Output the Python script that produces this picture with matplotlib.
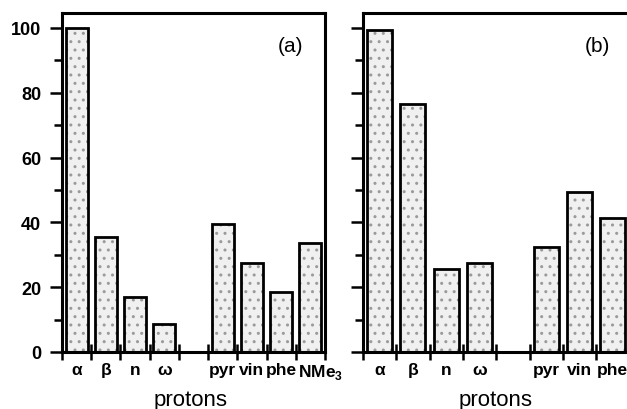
import matplotlib
matplotlib.use("Agg")
import matplotlib.pyplot as plt
import numpy as np

plt.rcParams['font.family'] = ['Liberation Sans', 'DejaVu Sans']
plt.rcParams['mathtext.fontset'] = 'custom'
plt.rcParams['mathtext.rm'] = 'Liberation Sans:bold'
plt.rcParams['mathtext.bf'] = 'Liberation Sans:bold'

# data
labels_a = ['α', 'β', 'n', 'ω', '', 'pyr', 'vin', 'phe', r'NMe$_\mathbf{3}$']
values_a = [100, 35.5, 17, 8.5, None, 39.5, 27.5, 18.5, 33.5]
labels_b = ['α', 'β', 'n', 'ω', '', 'pyr', 'vin', 'phe', r'NMe$_\mathbf{3}$']
values_b = [99.5, 76.5, 25.5, 27.5, None, 32.5, 49.5, 41.5, 35]
panel_tags = ['(a)', '(b)']
y_ticks = [0, 20, 40, 60, 80, 100]

W, H = 627, 410
fig = plt.figure(figsize=(W / 100, H / 100), dpi=100)

def px_axes(x0, x1, ytop, ybot):
    return [x0 / W, 1 - ybot / H, (x1 - x0) / W, (ybot - ytop) / H]

ax_a = fig.add_axes(px_axes(62, 325, 14, 353))
ax_b = fig.add_axes(px_axes(363, 363 + 9 * 33.3, 14, 353))

def draw(ax, labels, values, tag, tag_x, show_ylabels, xlabel_x):
    idx = [i for i, v in enumerate(values) if v is not None]
    xs = [i + 0.5 for i in idx]
    hs = [values[i] for i in idx]
    ax.bar(xs, hs, width=0.75, facecolor='#f0f0f0', edgecolor='#9a9a9a',
           hatch='..', linewidth=0, zorder=2)
    ax.bar(xs, hs, width=0.75, facecolor='none', edgecolor='black',
           linewidth=2.0, zorder=3)
    ax.set_xlim(0, 9)
    ax.set_ylim(0, 104.6)
    for s in ax.spines.values():
        s.set_linewidth(2.2)
    ax.set_xticks(np.arange(0, 10))
    ax.set_xticklabels([])
    # label positions: centred under bars, last (wide) label starts near its bar
    pos = [i + 0.5 for i in range(len(labels))]
    pos[-1] = len(labels) - 1 + 0.07
    ax.set_xticks(pos, minor=True)
    ax.set_xticklabels(labels, minor=True, fontsize=12.5, fontweight='bold')
    ax.get_xticklabels(minor=True)[-1].set_ha('left')
    ax.tick_params(axis='x', which='major', direction='inout', length=11, width=1.8)
    ax.tick_params(axis='x', which='minor', length=0, pad=7.5)
    ax.set_yticks(y_ticks)
    ax.set_yticks([10, 30, 50, 70, 90], minor=True)
    ax.tick_params(axis='y', which='major', direction='out', length=9, width=1.8, pad=6,
                   labelsize=13)
    ax.tick_params(axis='y', which='minor', direction='out', length=5.5, width=1.8)
    if show_ylabels:
        for t in ax.get_yticklabels():
            t.set_fontweight('bold')
    else:
        ax.set_yticklabels([])
    ax.set_xlabel('protons', fontsize=16)
    ax.xaxis.label.set_va('baseline')
    ax.xaxis.set_label_coords(xlabel_x, -0.157)
    ax.text(tag_x, 94.5, tag, fontsize=15, ha='center', va='center')

draw(ax_a, labels_a, values_a, panel_tags[0], 7.83, True, 0.49)
draw(ax_b, labels_b, values_b, panel_tags[1], 7.03, False, (496 - 363) / (9 * 33.3))

fig.savefig('out.png', dpi=100)
